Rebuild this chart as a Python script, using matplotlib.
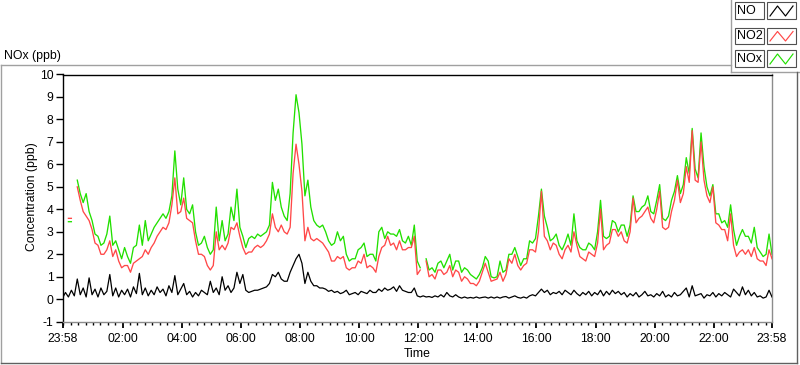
import numpy as np
import pandas as pd
import matplotlib
matplotlib.use("Agg")
import matplotlib.pyplot as plt
import matplotlib.dates as mdates
from matplotlib.lines import Line2D
from matplotlib.patches import Rectangle
from matplotlib.ticker import FixedLocator, FixedFormatter

nan = np.nan

# ---------------- data (6-minute samples from 23:58 to 23:58) ----------------
no_ppb = [
    0.05, 0.3, 0.1, 0.4, 0.15, 0.9, 0.2, 0.5, 0.1, 0.95,
    0.2, 0.45, 0.1, 0.5, 0.2, 0.35, 1.1, 0.15, 0.5, 0.1,
    0.4, 0.2, 0.45, 0.1, 0.55, 0.25, 1.15, 0.2, 0.5, 0.15,
    0.4, 0.2, 0.55, 0.3, 0.45, 0.15, 0.6, 0.3, 1.05, 0.2,
    0.45, 0.7, 0.2, 0.35, 0.1, 0.3, 0.15, 0.4,
    0.3, 0.2, 0.8, 0.3, 0.5, 0.2, 1.0, 0.4, 0.6, 0.3,
    0.5, 1.2, 0.7, 1.1, 0.4, 0.3, 0.35, 0.4, 0.4, 0.45,
    0.5, 0.55, 0.7, 1.1, 1.0, 1.2, 0.9, 0.8, 0.8, 1.2,
    1.5, 1.8, 2.0, 1.6, 0.7, 1.2, 0.8, 0.6, 0.6, 0.5,
    0.5, 0.45, 0.35, 0.4, 0.3, 0.35, 0.25,
    0.3, 0.4, 0.2, 0.25, 0.3, 0.2, 0.35, 0.3, 0.25, 0.4,
    0.3, 0.3, 0.45, 0.35, 0.5, 0.4, 0.45, 0.55, 0.35, 0.6,
    0.4, 0.35, 0.3, 0.3, 0.5, 0.15, 0.1, 0.15, 0.1, 0.12,
    0.08, 0.15, 0.1, 0.2, 0.1, 0.3, 0.15, 0.1, 0.2, 0.1,
    0.05, 0.1, 0.05, 0.08, 0.05, 0.1, 0.05,
    0.08, 0.1, 0.05, 0.1, 0.05, 0.1, 0.05, 0.1, 0.12, 0.05,
    0.1, 0.15, 0.08, 0.05, 0.1, 0.05, 0.15, 0.2, 0.15, 0.3,
    0.45, 0.3, 0.4, 0.2, 0.3, 0.25, 0.35, 0.2, 0.4, 0.3,
    0.2, 0.4, 0.25, 0.15, 0.3, 0.2, 0.35, 0.15, 0.3, 0.2,
    0.4, 0.15, 0.35, 0.2, 0.4, 0.25, 0.35, 0.2,
    0.3, 0.1, 0.25, 0.15, 0.3, 0.1, 0.2, 0.35, 0.15, 0.2,
    0.1, 0.25, 0.15, 0.35, 0.1, 0.2, 0.1, 0.3, 0.15, 0.2,
    0.35, 0.5, 0.1, 0.6, 0.15, 0.2, 0.25, 0.05, 0.2, 0.15,
    0.3, 0.1, 0.25, 0.15, 0.3, 0.2, 0.1, 0.45, 0.3, 0.15,
    0.55, 0.2, 0.4, 0.15, 0.3, 0.1, 0.15, 0.05, 0.1, 0.4, 0.1,
]

no2_ppb = [
    4.1, nan, 3.6, 3.6, nan, 5.0, 4.4, 3.9, 3.7, 3.5,
    3.1, 2.5, 2.4, 2.0, 2.0, 2.2, 2.6, 1.9, 2.2, 1.7,
    1.4, 1.5, 1.5, 1.2, 1.6, 1.7, 1.8, 1.9, 2.2, 2.0,
    2.3, 2.5, 2.8, 3.0, 3.2, 3.1, 3.4, 4.2, 5.4, 3.8,
    3.9, 4.5, 3.6, 3.5, 3.4, 2.6, 2.0, 2.0, 1.9, 1.5,
    1.3, 1.5, 3.0, 2.2, 2.4, 2.2, 2.5, 3.2, 3.1, 3.4,
    2.8, 2.3, 2.0, 2.1, 2.1, 2.3, 2.4, 2.3, 2.4, 2.6,
    2.9, 3.8, 3.2, 3.0, 3.3, 3.0, 2.9, 3.2, 5.6, 6.9,
    6.0, 4.8, 2.6, 3.2, 2.7, 2.6, 2.7, 2.6, 2.5, 2.3,
    2.1, 1.7, 1.7, 1.9, 1.8, 1.9, 1.4, 1.3, 1.4, 1.4,
    1.7, 1.6, 2.0, 1.4, 1.5, 1.4, 1.2, 1.9, 2.3, 2.4,
    2.8, 2.4, 2.5, 2.2, 2.6, 2.2, 2.2, 2.3, 2.3, 2.8,
    1.1, 1.3, nan, 1.7, 1.0, 1.1, 0.9, 1.3, 1.3, 1.1,
    1.2, 1.5, 1.0, 1.3, 1.2, 0.8, 1.0, 0.9, 0.7, 0.7,
    0.6, 0.8, 1.2, 1.6, 1.2, 0.8, 0.85, 0.9, 1.2, 0.8,
    1.1, 1.8, 1.6, 2.0, 1.5, 1.3, 1.5, 1.6, 2.2, 2.2,
    2.1, 3.0, 4.8, 2.8, 2.6, 2.2, 2.5, 2.4, 2.0, 1.8,
    2.2, 2.4, 2.1, 3.0, 2.4, 1.9, 1.8, 1.7, 2.1, 2.0,
    1.9, 2.5, 4.0, 2.2, 2.4, 2.5, 3.1, 3.1, 2.8, 3.0,
    2.6, 2.5, 3.0, 4.5, 3.4, 3.6, 3.7, 3.9, 4.1, 3.6,
    3.4, 4.0, 4.8, 3.2, 3.1, 3.2, 3.9, 4.4, 5.3, 4.3,
    4.7, 5.9, 5.2, 7.5, 5.3, 5.2, 7.0, 5.3, 4.6, 4.3,
    5.0, 3.4, 3.3, 3.1, 3.1, 2.6, 3.8, 2.4, 1.9, 2.1,
    2.2, 2.0, 2.2, 1.9, 2.3, 1.8, 1.7, 1.7, 1.5, 2.2,
    1.8,
]

nox_ppb = [
    4.2, nan, 3.45, 3.45, nan, 5.3, 4.7, 4.3, 4.7, 3.9,
    3.5, 2.9, 2.8, 2.4, 2.5, 2.9, 3.7, 2.4, 2.6, 2.2,
    1.8, 2.3, 1.9, 1.6, 2.3, 2.4, 3.3, 2.4, 3.5, 2.6,
    2.9, 3.2, 3.4, 3.6, 3.8, 3.6, 3.9, 4.6, 6.6, 4.9,
    4.2, 5.4, 4.0, 3.8, 4.2, 3.0, 2.4, 2.5, 2.8, 2.3,
    2.0, 2.2, 4.1, 2.6, 3.5, 2.6, 2.9, 4.1, 3.5, 4.9,
    3.2, 2.8, 2.3, 2.7, 2.8, 2.7, 2.9, 2.8, 2.9, 3.0,
    3.3, 5.2, 4.4, 4.9, 4.1, 3.7, 3.5, 4.7, 7.4, 9.1,
    8.3, 6.9, 4.6, 5.3, 4.1, 3.5, 3.3, 3.2, 3.3, 3.0,
    2.6, 2.4, 2.5, 3.0, 2.6, 2.8, 2.0, 1.7, 1.8, 1.8,
    2.2, 2.3, 2.5, 1.9, 2.0, 2.0, 1.7, 3.0, 3.2, 2.7,
    3.0, 2.9, 2.9, 2.8, 3.1, 2.6, 2.5, 2.8, 2.4, 3.3,
    1.7, 1.4, nan, 1.8, 1.3, 1.4, 1.2, 1.6, 1.7, 1.4,
    1.7, 2.0, 1.3, 1.7, 1.7, 1.2, 1.4, 1.3, 1.1, 1.0,
    0.9, 1.1, 1.4, 1.9, 1.7, 1.0, 0.95, 1.0, 1.7, 1.2,
    1.3, 2.0, 2.0, 2.3, 1.9, 1.5, 1.8, 1.8, 2.6, 2.5,
    2.7, 3.7, 4.9, 3.7, 3.2, 2.6, 2.7, 2.9, 2.4, 2.2,
    2.5, 2.9, 2.4, 3.8, 2.6, 2.3, 2.2, 2.2, 2.5, 2.4,
    2.2, 3.0, 4.4, 2.8, 2.7, 2.8, 3.5, 3.4, 3.0, 3.3,
    3.3, 2.8, 3.3, 4.6, 3.9, 3.9, 4.1, 4.2, 4.6, 3.9,
    3.8, 4.4, 5.1, 3.6, 3.5, 3.7, 4.4, 4.8, 5.5, 4.7,
    5.1, 6.3, 5.6, 7.6, 5.8, 5.4, 7.4, 5.9, 5.0, 4.6,
    5.1, 3.8, 3.8, 3.4, 3.5, 3.2, 4.2, 3.1, 2.4, 2.8,
    3.1, 2.8, 2.8, 2.5, 3.2, 2.3, 2.1, 1.9, 2.0, 2.9,
    2.0,
]

series_names = ["NO", "NO2", "NOx"]
tick_labels = ["23:58", "02:00", "04:00", "06:00", "08:00", "10:00", "12:00",
               "14:00", "16:00", "18:00", "20:00", "22:00", "23:58"]
y_ticks = list(range(-1, 11))

# ---------------- figure ----------------
plt.rcParams["font.family"] = ["Liberation Sans", "DejaVu Sans"]
W, H = 800, 365
fig = plt.figure(figsize=(W / 100, H / 100), dpi=100)
fig.patch.set_facecolor("white")

def fx(x):
    return x / W

def fy(y):
    return 1 - y / H

ax_l, ax_r, ax_t, ax_b = 62.5, 772.0, 74.5, 321.7
ax = fig.add_axes([fx(ax_l), fy(ax_b), fx(ax_r - ax_l), (ax_b - ax_t) / H])

start = pd.Timestamp("2021-01-01 23:58")
n = len(no2_ppb)
times = pd.date_range(start, periods=n, freq="6min")
end = times[-1]

c_no, c_no2, c_nox = "#000000", "#ff4848", "#22e000"
ax.plot(times, nox_ppb, color=c_nox, lw=0.95, zorder=2)
ax.plot(times, no2_ppb, color=c_no2, lw=0.95, zorder=3)
ax.plot(times, no_ppb, color=c_no, lw=0.9, zorder=4)

ax.set_xlim(start, end)
ax.set_ylim(-1, 10)

major_times = [start] + list(pd.date_range("2021-01-02 02:00", "2021-01-02 22:00", freq="2h")) + [end]
ax.xaxis.set_major_locator(FixedLocator(mdates.date2num(major_times)))
ax.xaxis.set_major_formatter(FixedFormatter(tick_labels))
ax.xaxis.set_minor_locator(mdates.MinuteLocator(byminute=[0, 15, 30, 45]))
ax.set_yticks(y_ticks)
ax.set_yticklabels([str(v) for v in y_ticks])

ax.tick_params(axis="x", which="major", length=4.5, width=1.3, pad=3.5, labelsize=8.8, color="black")
ax.tick_params(axis="x", which="minor", length=2.5, width=1.0, color="black")
ax.tick_params(axis="y", which="major", length=5, width=1.0, pad=1.5, labelsize=8.8)

for s in ["left", "top"]:
    ax.spines[s].set_color("black")
    ax.spines[s].set_linewidth(1.0)
for s in ["right", "bottom"]:
    ax.spines[s].set_color("#8c8c8c")
    ax.spines[s].set_linewidth(1.0)

fig.text(fx(32), fy(197), "Concentration (ppb)", rotation=90, ha="center", va="center", fontsize=8.8)
fig.text(fx(417), fy(354), "Time", ha="center", va="center", fontsize=8.8)
fig.text(fx(4), fy(56), "NOx (ppb)", ha="left", va="center", fontsize=8.8)

# outer panel lines
def fline(x0, y0, x1, y1, color, lw=1.0):
    fig.add_artist(Line2D([fx(x0), fx(x1)], [fy(y0), fy(y1)], color=color, lw=lw,
                          transform=fig.transFigure))

fline(0.5, 65, 731, 65, "#a0a0a0")
fline(731, 0, 731, 72, "#a0a0a0")
fline(731, 72, 800, 72, "#a0a0a0")
fline(0.5, 65, 0.5, 363, "#a0a0a0")
fline(0.5, 363, 797, 363, "#606060")
fline(797, 72, 797, 363, "#606060")

# legend
rows = [(2, 19), (27.5, 44), (50, 67)]
colors = [c_no, c_no2, c_nox]
for (y0, y1), name, col in zip(rows, series_names, colors):
    fig.add_artist(Rectangle((fx(734.5), fy(y1)), fx(764 - 734.5), (y1 - y0) / H,
                             transform=fig.transFigure, fill=False, ec="#505050", lw=0.8))
    fig.add_artist(Rectangle((fx(767), fy(y1)), fx(796 - 767), (y1 - y0) / H,
                             transform=fig.transFigure, fill=False, ec="#505050", lw=0.8))
    fig.text(fx(736.5), fy((y0 + y1) / 2 + 0.5), name, ha="left", va="center", fontsize=9)
    xs = [770, 777.5, 785.5, 793]
    ys = [y1 - 3, y0 + 4, y1 - 3, y0 + 4]
    fig.add_artist(Line2D([fx(v) for v in xs], [fy(v) for v in ys], color=col, lw=0.85,
                          transform=fig.transFigure))

fig.savefig("out.png", dpi=100, facecolor="white")
